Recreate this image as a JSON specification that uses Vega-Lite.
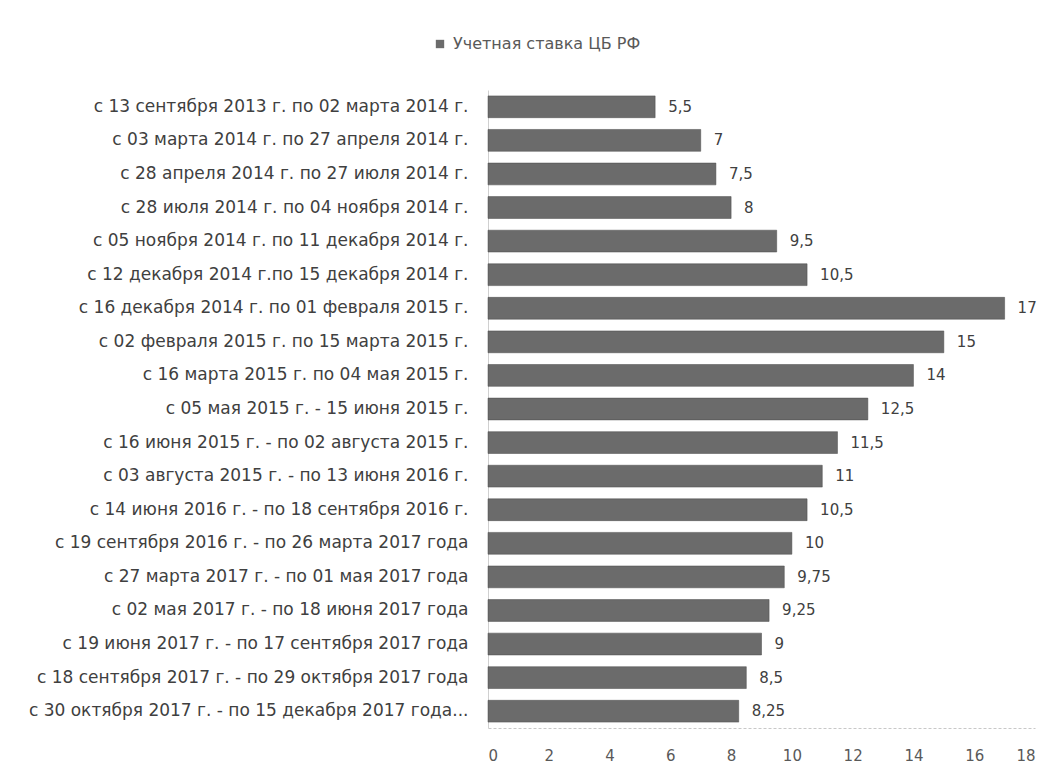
{
  "$schema": "https://vega.github.io/schema/vega-lite/v6.json",
  "autosize": {"type": "none"},
  "width": 547,
  "height": 638,
  "padding": {"left": 488, "top": 90, "right": 29, "bottom": 46},
  "background": "white",
  "config": {
    "locale": {"number": {"decimal": ",", "thousands": " ", "grouping": [3], "currency": ["", " ₽"]}},
    "font": "DejaVu Sans",
    "view": {"stroke": null}
  },
  "data": {"values": [
    {"period": "с 13 сентября 2013 г. по 02 марта 2014 г.", "rate": 5.5, "series": "Учетная ставка ЦБ РФ"},
    {"period": "с 03 марта 2014 г. по 27 апреля 2014 г.", "rate": 7, "series": "Учетная ставка ЦБ РФ"},
    {"period": "с 28 апреля 2014 г. по 27 июля 2014 г.", "rate": 7.5, "series": "Учетная ставка ЦБ РФ"},
    {"period": "с 28 июля 2014 г. по 04 ноября 2014 г.", "rate": 8, "series": "Учетная ставка ЦБ РФ"},
    {"period": "с 05 ноября 2014 г. по 11 декабря 2014 г.", "rate": 9.5, "series": "Учетная ставка ЦБ РФ"},
    {"period": "с 12 декабря 2014 г.по 15 декабря 2014 г.", "rate": 10.5, "series": "Учетная ставка ЦБ РФ"},
    {"period": "с 16 декабря 2014 г. по 01 февраля 2015 г.", "rate": 17, "series": "Учетная ставка ЦБ РФ"},
    {"period": "с 02 февраля 2015 г. по 15 марта 2015 г.", "rate": 15, "series": "Учетная ставка ЦБ РФ"},
    {"period": "с 16 марта 2015 г. по 04 мая 2015 г.", "rate": 14, "series": "Учетная ставка ЦБ РФ"},
    {"period": "с 05 мая 2015 г. - 15 июня 2015 г.", "rate": 12.5, "series": "Учетная ставка ЦБ РФ"},
    {"period": "с 16 июня 2015 г. - по 02 августа 2015 г.", "rate": 11.5, "series": "Учетная ставка ЦБ РФ"},
    {"period": "с 03 августа 2015 г. - по 13 июня 2016 г.", "rate": 11, "series": "Учетная ставка ЦБ РФ"},
    {"period": "с 14 июня 2016 г. - по 18 сентября 2016 г.", "rate": 10.5, "series": "Учетная ставка ЦБ РФ"},
    {"period": "с 19 сентября 2016 г. - по 26 марта 2017 года", "rate": 10, "series": "Учетная ставка ЦБ РФ"},
    {"period": "с 27 марта 2017 г. - по 01 мая 2017 года", "rate": 9.75, "series": "Учетная ставка ЦБ РФ"},
    {"period": "с 02 мая 2017 г. - по 18 июня 2017 года", "rate": 9.25, "series": "Учетная ставка ЦБ РФ"},
    {"period": "с 19 июня 2017 г. - по 17 сентября 2017 года", "rate": 9, "series": "Учетная ставка ЦБ РФ"},
    {"period": "с 18 сентября 2017 г. - по 29 октября 2017 года", "rate": 8.5, "series": "Учетная ставка ЦБ РФ"},
    {"period": "с 30 октября 2017 г. - по 15 декабря 2017 года...", "rate": 8.25, "series": "Учетная ставка ЦБ РФ"}
  ]},
  "encoding": {
    "y": {
      "field": "period", "type": "nominal", "sort": null,
      "scale": {"paddingInner": 0.35, "paddingOuter": 0.175},
      "axis": {"title": null, "ticks": false, "domainColor": "#d0d0d0", "labelColor": "#404040", "labelFontSize": 17, "labelPadding": 20, "labelLimit": 480}
    },
    "x": {
      "field": "rate", "type": "quantitative",
      "scale": {"domain": [0, 18], "nice": false},
      "axis": {"title": null, "values": [0, 2, 4, 6, 8, 10, 12, 14, 16, 18], "grid": false, "ticks": false, "domainColor": "#c8c8c8", "domainDash": [3, 2], "labelColor": "#595959", "labelFontSize": 15, "labelPadding": 20, "format": "d"}
    }
  },
  "layer": [
    {
      "mark": {"type": "bar", "stroke": "#4a4a4a", "strokeWidth": 0.5},
      "encoding": {
        "color": {"field": "series", "type": "nominal", "scale": {"range": ["#6b6b6b"]},
          "legend": {"title": null, "orient": "none", "legendX": -56, "legendY": -54, "symbolType": "square", "symbolSize": 70, "labelFontSize": 16, "labelLimit": 400, "labelColor": "#595959", "symbolStrokeWidth": 0, "labelOffset": 5}}
      }
    },
    {
      "mark": {"type": "text", "align": "left", "dx": 13, "fontSize": 15, "color": "#404040"},
      "encoding": {"text": {"field": "rate", "type": "quantitative", "format": ".2~f"}}
    }
  ]
}
